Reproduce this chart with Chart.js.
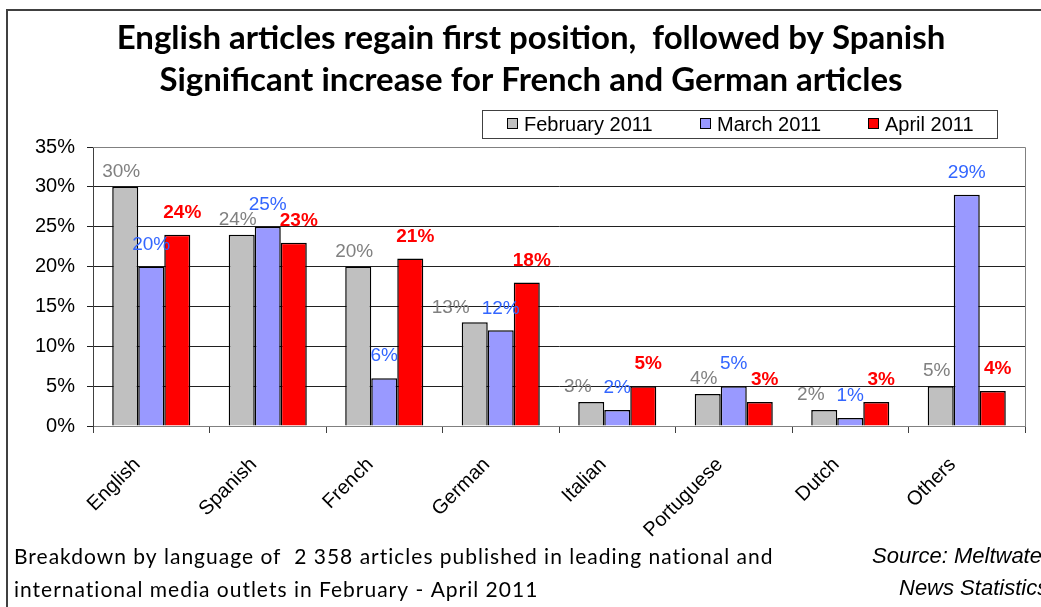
<!DOCTYPE html>
<html>
<head>
<meta charset="utf-8">
<script src="https://cdn.jsdelivr.net/npm/chart.js@4.4.0/dist/chart.umd.min.js"></script>
<style>
  html, body { margin: 0; padding: 0; background: #fff; }
  canvas { display: block; }
</style>
</head>
<body>
<canvas id="my-chart" width="1041" height="607"></canvas>
<script>
// values (percent of articles)
const languages = ["English", "Spanish", "French", "German", "Italian", "Portuguese", "Dutch", "Others"];
const february = [30, 24, 20, 13, 3, 4, 2, 5];
const march = [20, 25, 6, 12, 2, 5, 1, 29];
const april = [24, 23, 21, 18, 5, 3, 3, 4.4];
const seriesNames = ["February 2011", "March 2011", "April 2011"];
const yMax = 35;
const yStep = 5;

const titleLines = [
  "English articles regain first position,  followed by Spanish",
  "Significant increase for French and German articles",
];
const noteLines = [
  "Breakdown by language of  2 358 articles published in leading national and",
  "international media outlets in February - April 2011",
];
const sourceLines = ["Source: Meltwater", "News Statistics"];

const ARIAL = "'Liberation Sans', Arial, sans-serif";

// label look for each series: colour, weight, shift from the bar top
const labelStyles = [
  { color: "#808080", weight: "normal", dx: -4, dy: 15 },
  { color: "#3366ff", weight: "normal", dx: 0, dy: 22 },
  { color: "#ff0000", weight: "bold", dx: 5, dy: 22 },
];
const labelGap = 12;

// frame, title, legend and footnotes
const decorPlugin = {
  id: "decor",
  afterDraw(chart) {
    const ctx = chart.ctx;
    ctx.save();

    // outer frame (top and left edges visible)
    ctx.strokeStyle = "#404040";
    ctx.lineWidth = 2;
    ctx.beginPath();
    ctx.moveTo(7, 607);
    ctx.lineTo(7, 10);
    ctx.lineTo(1041, 10);
    ctx.stroke();

    // plot area border
    const a = chart.chartArea;
    ctx.strokeStyle = "#808080";
    ctx.lineWidth = 1;
    ctx.beginPath();
    ctx.moveTo(a.left, a.top + 0.5);
    ctx.lineTo(a.right + 0.5, a.top + 0.5);
    ctx.lineTo(a.right + 0.5, a.bottom);
    ctx.stroke();

    // title
    ctx.fillStyle = "#000";
    ctx.textAlign = "center";
    ctx.textBaseline = "middle";
    ctx.font = "bold 33px Lato, sans-serif";
    ctx.fillText(titleLines[0], 531, 38);
    ctx.fillText(titleLines[1], 531, 80);

    // legend
    ctx.strokeStyle = "#404040";
    ctx.strokeRect(482.5, 110.5, 515, 28);
    const legendX = [507, 700, 868];
    ctx.font = "20px " + ARIAL;
    ctx.textAlign = "left";
    chart.data.datasets.forEach((ds, i) => {
      ctx.fillStyle = ds.backgroundColor;
      ctx.fillRect(legendX[i], 118, 11, 11);
      ctx.strokeStyle = "#000";
      ctx.strokeRect(legendX[i] + 0.5, 118.5, 10, 10);
      ctx.fillStyle = "#000";
      ctx.fillText(ds.label, legendX[i] + 17, 125);
    });

    // footnotes
    ctx.font = "21px Lato, sans-serif";
    ctx.letterSpacing = "1px";
    ctx.fillText(noteLines[0], 14, 557);
    ctx.fillText(noteLines[1], 14, 590);
    ctx.font = "italic 22px " + ARIAL;
    ctx.letterSpacing = "0px";
    ctx.fillText(sourceLines[0], 872, 557);
    ctx.fillText(sourceLines[1], 899, 589);

    ctx.restore();
  },
};

// value labels above the bars; a February label moves left when it would hit the March one
const valueLabels = {
  id: "valueLabels",
  afterDatasetsDraw(chart) {
    const ctx = chart.ctx;
    ctx.save();
    ctx.textAlign = "center";
    ctx.textBaseline = "middle";
    const boxes = [];
    [1, 2, 0].forEach((i) => {
      const ds = chart.data.datasets[i];
      const st = labelStyles[i];
      ctx.fillStyle = st.color;
      ctx.font = st.weight + " 19px " + ARIAL;
      chart.getDatasetMeta(i).data.forEach((bar, j) => {
        const text = Math.round(ds.data[j]) + "%";
        const w = ctx.measureText(text).width;
        let x = bar.x + st.dx;
        const y = bar.y - st.dy;
        if (i === 0 && boxes[j]) {
          const b = boxes[j];
          const limit = b.x - b.w / 2 - labelGap;
          if (Math.abs(y - b.y) < 14 && x + w / 2 > limit) {
            x = limit - w / 2;
          }
        }
        if (i === 1) boxes[j] = { x, y, w };
        ctx.fillText(text, x, y);
      });
    });
    ctx.restore();
  },
};

const ctx = document.getElementById("my-chart").getContext("2d");

const myChart = new Chart(ctx, {
  type: "bar",
  data: {
    labels: languages,
    datasets: [
      { label: seriesNames[0], data: february, backgroundColor: "#c0c0c0" },
      { label: seriesNames[1], data: march, backgroundColor: "#9999ff" },
      { label: seriesNames[2], data: april, backgroundColor: "#ff0000" },
    ],
  },
  options: {
    responsive: false,
    animation: false,
    devicePixelRatio: 1,
    layout: { padding: { left: 10, top: 147, right: 16, bottom: 0 } },
    datasets: {
      bar: {
        categoryPercentage: 0.67,
        barPercentage: 1,
        borderColor: "#000",
        borderWidth: 1.5,
      },
    },
    plugins: {
      legend: { display: false },
      title: { display: false },
      tooltip: { enabled: false },
    },
    scales: {
      x: {
        afterFit: (scale) => { scale.height = 181; },
        border: { color: "#808080", width: 1 },
        grid: {
          offset: true,
          drawOnChartArea: false,
          tickLength: 7,
          color: "#404040",
        },
        ticks: {
          minRotation: 45,
          maxRotation: 45,
          padding: 20,
          labelOffset: -14,
          color: "#000",
          font: { family: ARIAL, size: 20 },
        },
      },
      y: {
        min: 0,
        max: yMax,
        afterFit: (scale) => { scale.width = 83; },
        border: { color: "#404040", width: 1 },
        grid: {
          color: "#202020",
          tickLength: 6,
        },
        ticks: {
          stepSize: yStep,
          padding: 12,
          color: "#000",
          font: { family: ARIAL, size: 20 },
          callback: (v) => v + "%",
        },
      },
    },
  },
  plugins: [decorPlugin, valueLabels],
});
</script>
</body>
</html>
